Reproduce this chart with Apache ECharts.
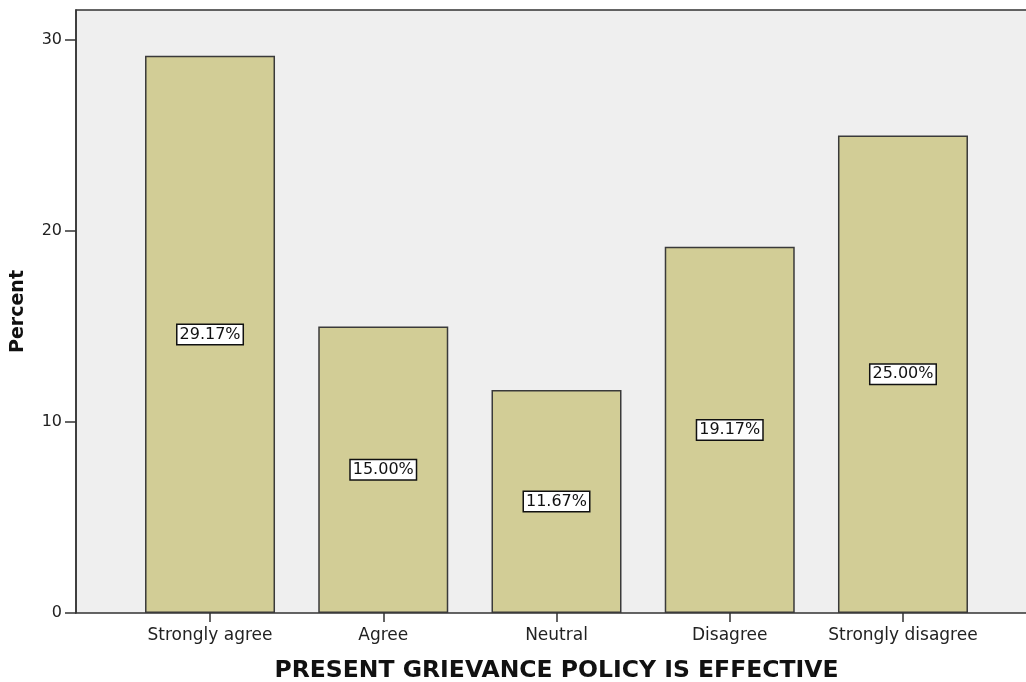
<!DOCTYPE html>
<html>
<head>
<meta charset="utf-8">
<title>echarts</title>
<script src="https://cdn.jsdelivr.net/npm/echarts@6/dist/echarts.min.js"></script>
<style>
html,body{margin:0;padding:0;background:#fff;}
#container{width:1026px;height:682px;}
</style>
</head>
<body>
<div id="container"></div>
<script>
    var categories = ['Strongly agree', 'Agree', 'Neutral', 'Disagree', 'Strongly disagree'];
    var percents = [29.17, 15.00, 11.67, 19.17, 25.00];
    var yTicks = [0, 10, 20, 30];
    var yMax = 31.57;

    var option = {
        animation: false,
        grid: [
            {   // frame + grey background, wider than the bars grid
                left: 76, right: -20, top: 10, bottom: 69,
                outerBoundsMode: 'none',
                show: true,
                backgroundColor: '#efefef',
                borderColor: '#333',
                borderWidth: 1.5
            },
            {   // bars
                left: 123.4, right: 36.4, top: 10, bottom: 69,
                outerBoundsMode: 'none'
            }
        ],
        xAxis: [
            { gridIndex: 0, type: 'value', show: false, min: 0, max: 1 },
            {
                gridIndex: 1,
                type: 'category',
                data: categories,
                axisLine: { show: false },
                axisTick: { show: true, alignWithLabel: true, length: 9, lineStyle: { color: '#333', width: 1.5 } },
                axisLabel: { color: '#222', fontSize: 17, margin: 14, interval: 0, fontFamily: 'DejaVu Sans' },
                name: 'PRESENT GRIEVANCE POLICY IS EFFECTIVE',
                nameLocation: 'middle',
                nameGap: 46,
                nameTextStyle: { color: '#111', fontSize: 23.5, fontWeight: 'bold', fontFamily: 'DejaVu Sans' }
            }
        ],
        yAxis: [
            {
                gridIndex: 0,
                type: 'value',
                min: 0,
                max: yMax,
                axisLine: { show: true, lineStyle: { color: '#333', width: 1.5 } },
                axisTick: { show: true, length: 11, customValues: yTicks, lineStyle: { color: '#333', width: 1.5 } },
                axisLabel: { color: '#222', fontSize: 16, margin: 14, fontFamily: 'DejaVu Sans', customValues: yTicks },
                splitLine: { show: false },
                name: 'Percent',
                nameLocation: 'middle',
                nameGap: 48,
                nameTextStyle: { color: '#111', fontSize: 19, fontWeight: 'bold', fontFamily: 'DejaVu Sans' }
            },
            { gridIndex: 1, type: 'value', min: 0, max: yMax, show: false }
        ],
        series: [
            {
                type: 'bar',
                xAxisIndex: 1,
                yAxisIndex: 1,
                barWidth: 130,
                data: percents,
                itemStyle: { color: '#d2cd96', borderColor: '#3a3a3a', borderWidth: 1.5 },
                label: {
                    show: true,
                    position: 'inside',
                    color: '#111',
                    fontSize: 16,
                    fontFamily: 'DejaVu Sans',
                    backgroundColor: '#fff',
                    borderColor: '#111',
                    borderWidth: 1.5,
                    padding: [2, 2, 1, 2],
                    formatter: function (p) { return p.value.toFixed(2) + '%'; }
                }
            }
        ]
    };
    var myChart = echarts.init(document.getElementById('container'));
    myChart.setOption(option, true);
</script>
</body>
</html>
